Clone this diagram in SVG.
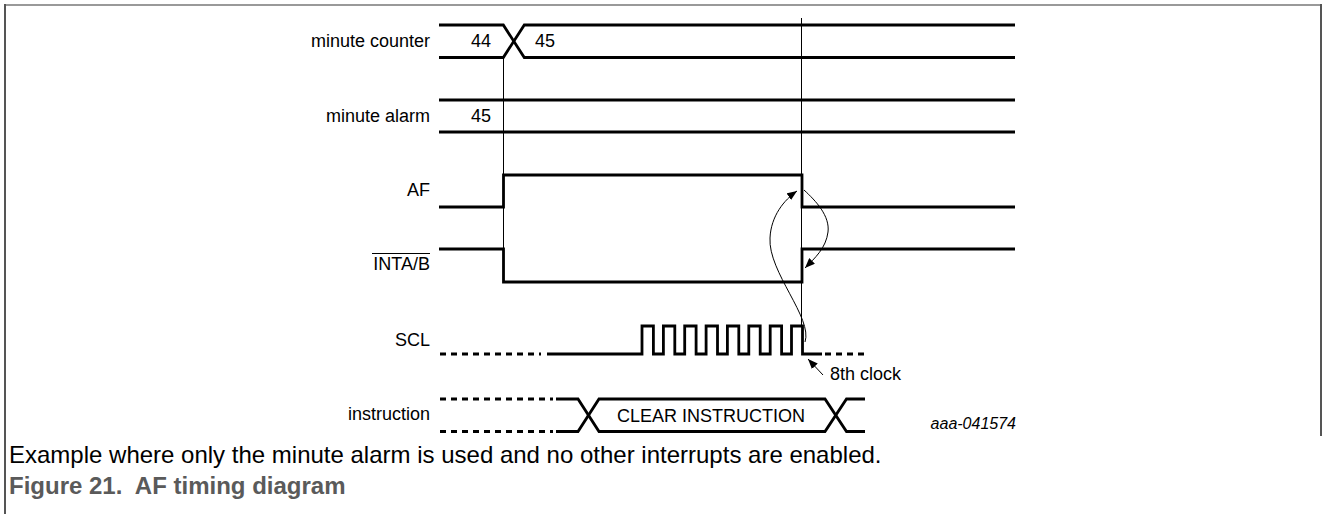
<svg xmlns="http://www.w3.org/2000/svg" width="1326" height="514" viewBox="0 0 1326 514">
<style>
.sig{fill:none;stroke:#000;stroke-width:2.8;stroke-linejoin:miter;stroke-linecap:butt}
.dash{fill:none;stroke:#000;stroke-width:2.8;stroke-dasharray:6 5}
.thin{fill:none;stroke:#000;stroke-width:1}
.lbl{font-family:"Liberation Sans",Arial,sans-serif;font-size:18px;fill:#000}
.r{text-anchor:end}
.c{text-anchor:middle}
.cap{font-family:"Liberation Sans",Arial,sans-serif;font-size:24px;fill:#000}
.fig{font-family:"Liberation Sans",Arial,sans-serif;font-size:24px;font-weight:bold;fill:#5a5a5a}
</style>
<defs>
<marker id="ah" viewBox="0 0 10 8" refX="10" refY="4" markerWidth="10" markerHeight="8" markerUnits="userSpaceOnUse" orient="auto">
<path d="M0,0 L10,4 L0,8 Z" fill="#000"/>
</marker>
</defs>
<rect width="1326" height="514" fill="#fff"/>
<g id="frame">
<line x1="4" y1="5" x2="1321" y2="5" stroke="#999" stroke-width="2"/>
<line x1="5" y1="4" x2="5" y2="514" stroke="#555" stroke-width="2"/>
<line x1="1321" y1="4" x2="1321" y2="436" stroke="#555" stroke-width="2"/>
</g>
<g id="connectors">
<line class="thin" x1="503.5" y1="57" x2="503.5" y2="250"/>
<line class="thin" x1="801.5" y1="18" x2="801.5" y2="326"/>
<path class="thin" d="M805,342 C813,318 768,272 770,238 C771,216 784,200 797,191" marker-end="url(#ah)"/>
<path class="thin" d="M804,190 C816,201 830,216 828,232 C826,248 815,258 805,268" marker-end="url(#ah)"/>
<line class="thin" x1="823" y1="375" x2="808" y2="359" marker-end="url(#ah)"/>
</g>
<g id="minute-counter">
<text class="lbl r" x="430" y="47">minute counter</text>
<path class="sig" d="M439,25 H503.3 L524.3,57.5 H1015"/>
<path class="sig" d="M439,57.5 H503.3 L524.3,25 H1015"/>
<text class="lbl c" x="481" y="47">44</text>
<text class="lbl" x="535" y="47">45</text>
</g>
<g id="minute-alarm">
<text class="lbl r" x="430" y="122">minute alarm</text>
<path class="sig" d="M439,100 H1015"/>
<path class="sig" d="M439,132 H1015"/>
<text class="lbl c" x="481" y="122">45</text>
</g>
<g id="af">
<text class="lbl r" x="430" y="196">AF</text>
<path class="sig" d="M439,207 H503.5 V175 H802 V207 H1015"/>
</g>
<g id="inta">
<text class="lbl r" x="430" y="270">INTA/B</text>
<line x1="372" y1="253.5" x2="430" y2="253.5" stroke="#000" stroke-width="1.2"/>
<path class="sig" d="M439,249 H503.5 V282 H802 V249 H1015"/>
</g>
<g id="scl">
<text class="lbl r" x="430" y="346">SCL</text>
<path class="dash" d="M440,354 H541"/>
<path class="sig" d="M547,354 H642 V326 H653.4 V354 H663.4 V326 H674.8 V354 H684.7 V326 H696.1 V354 H706.1 V326 H717.5 V354 H727.4 V326 H738.8 V354 H748.8 V326 H760.2 V354 H770.2 V326 H781.6 V354 H791.5 V326 H802.5 V354 H822"/>
<path class="dash" d="M825,354 H865"/>
<text class="lbl" x="830" y="380">8th clock</text>
</g>
<g id="instruction">
<text class="lbl r" x="430" y="420">instruction</text>
<path class="dash" d="M440,399 H553"/>
<path class="dash" d="M440,431.5 H553"/>
<path class="sig" d="M556,399 H578 L599,431.5 H825 L846.5,399 H865"/>
<path class="sig" d="M556,431.5 H578 L599,399 H825 L846.5,431.5 H865"/>
<text class="lbl c" x="711" y="421.5">CLEAR INSTRUCTION</text>
<text x="1016" y="429" text-anchor="end" font-family="Liberation Sans, Arial, sans-serif" font-size="16" font-style="italic" fill="#000">aaa-041574</text>
</g>
<g id="caption">
<text class="cap" x="9" y="463">Example where only the minute alarm is used and no other interrupts are enabled.</text>
<text class="fig" x="9" y="494" xml:space="preserve">Figure 21.  AF timing diagram</text>
</g>
</svg>
